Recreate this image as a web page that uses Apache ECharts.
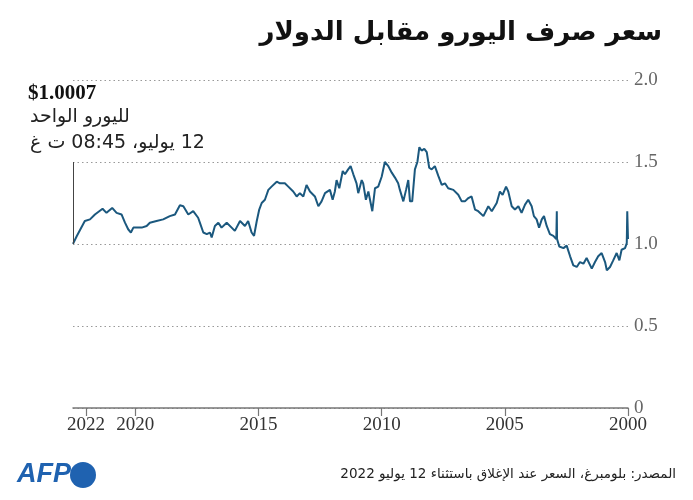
<!DOCTYPE html>
<html>
<head>
<meta charset="utf-8">
<script src="https://cdn.jsdelivr.net/npm/echarts@6.0.0/dist/echarts.min.js"></script>
<style>
  html, body { margin: 0; padding: 0; background: #fff; }
  #chart { width: 693px; height: 500px; }
</style>
</head>
<body>
<div id="chart" dir="rtl"></div>
<script>
// سعر صرف اليورو مقابل الدولار - القيم مقروءة من الرسم
// السنوات بصيغة عشرية (2000.5 = منتصف 2000)
var years = [
  2000.00, 2000.03, 2000.05, 2000.12, 2000.26, 2000.35, 2000.46, 2000.60, 2000.73, 2000.86,
  2000.93, 2001.07, 2001.21, 2001.34, 2001.47, 2001.68, 2001.81, 2001.95, 2002.08, 2002.22,
  2002.35, 2002.49, 2002.62, 2002.79, 2002.88, 2002.89, 2002.91, 2003.03, 2003.17, 2003.30,
  2003.41, 2003.50, 2003.61, 2003.71, 2003.82, 2003.91, 2004.05, 2004.18, 2004.32, 2004.45,
  2004.59, 2004.72, 2004.86, 2004.95, 2005.09, 2005.20, 2005.33, 2005.53, 2005.67, 2005.87,
  2006.08, 2006.21, 2006.35, 2006.48, 2006.62, 2006.75, 2006.89, 2007.09, 2007.30, 2007.43,
  2007.56, 2007.70, 2007.84, 2007.97, 2008.07, 2008.17, 2008.27, 2008.38, 2008.47, 2008.55,
  2008.65, 2008.76, 2008.85, 2008.92, 2009.01, 2009.12, 2009.26, 2009.33, 2009.46, 2009.59,
  2009.73, 2009.87, 2010.00, 2010.14, 2010.27, 2010.38, 2010.54, 2010.64, 2010.75, 2010.81,
  2010.95, 2011.02, 2011.15, 2011.26, 2011.36, 2011.49, 2011.58, 2011.72, 2011.83, 2011.90,
  2011.99, 2012.10, 2012.30, 2012.44, 2012.57, 2012.71, 2012.91, 2013.05, 2013.18, 2013.32,
  2013.45, 2013.59, 2013.79, 2013.93, 2014.13, 2014.26, 2014.47, 2014.60, 2014.74, 2014.87,
  2014.97, 2015.07, 2015.18, 2015.28, 2015.42, 2015.55, 2015.75, 2015.96, 2016.09, 2016.29,
  2016.50, 2016.63, 2016.77, 2016.90, 2016.97, 2017.10, 2017.24, 2017.38, 2017.45, 2017.65,
  2017.85, 2018.05, 2018.19, 2018.39, 2018.60, 2018.87, 2019.14, 2019.41, 2019.54, 2019.74,
  2019.95, 2020.08, 2020.18, 2020.29, 2020.42, 2020.56, 2020.76, 2020.94, 2021.17, 2021.33,
  2021.64, 2021.84, 2022.05, 2022.38, 2022.53
];
var rates = [
  1.030, 1.200, 1.005, 0.975, 0.965, 0.900, 0.945, 0.900, 0.860, 0.840,
  0.890, 0.945, 0.925, 0.890, 0.850, 0.915, 0.880, 0.890, 0.860, 0.870,
  0.925, 0.990, 0.975, 0.985, 1.030, 1.200, 1.030, 1.050, 1.060, 1.110,
  1.170, 1.150, 1.100, 1.150, 1.170, 1.230, 1.270, 1.240, 1.190, 1.230,
  1.210, 1.230, 1.320, 1.350, 1.300, 1.320, 1.250, 1.200, 1.230, 1.170,
  1.200, 1.210, 1.290, 1.280, 1.260, 1.260, 1.300, 1.330, 1.340, 1.370,
  1.360, 1.415, 1.475, 1.455, 1.465, 1.560, 1.580, 1.570, 1.590, 1.500,
  1.455, 1.260, 1.260, 1.390, 1.330, 1.260, 1.330, 1.370, 1.405, 1.435,
  1.475, 1.500, 1.410, 1.350, 1.340, 1.200, 1.320, 1.270, 1.370, 1.390,
  1.310, 1.370, 1.425, 1.475, 1.455, 1.425, 1.445, 1.340, 1.390, 1.320,
  1.270, 1.330, 1.310, 1.260, 1.230, 1.290, 1.320, 1.360, 1.290, 1.310,
  1.290, 1.320, 1.350, 1.370, 1.370, 1.380, 1.350, 1.330, 1.270, 1.250,
  1.210, 1.140, 1.050, 1.070, 1.140, 1.110, 1.140, 1.080, 1.100, 1.130,
  1.100, 1.130, 1.110, 1.040, 1.070, 1.060, 1.070, 1.130, 1.160, 1.200,
  1.180, 1.230, 1.236, 1.180, 1.170, 1.150, 1.140, 1.130, 1.110, 1.100,
  1.100, 1.100, 1.070, 1.090, 1.130, 1.180, 1.190, 1.220, 1.190, 1.215,
  1.180, 1.150, 1.140, 1.047, 1.0007
];
var xTickYears = [2000, 2005, 2010, 2015, 2020, 2022];
var yTicks = [0, 0.5, 1.0, 1.5, 2.0];
var lastValueLabel = '$1.0007';

var serif = "'Liberation Serif', 'DejaVu Serif', 'DejaVu Sans'";
var arabic = "'DejaVu Sans'";

var chartDom = document.getElementById('chart');
var myChart = echarts.init(chartDom, null, { renderer: 'canvas' });

var lineData = years.map(function (y, i) { return [y, rates[i]]; });
var lastYear = years[years.length - 1];
var lastRate = rates[rates.length - 1];

var option = {
  backgroundColor: '#fff',
  animation: false,
  title: {
    text: 'سعر صرف اليورو مقابل الدولار',
    right: 26,
    top: 15,
    textStyle: { fontSize: 26, fontWeight: 'bold', fontFamily: arabic, color: '#111' }
  },
  grid: { left: 73, right: 65, top: 80, bottom: 92, outerBoundsMode: 'none' },
  xAxis: {
    type: 'value',
    inverse: true,
    min: 2000,
    max: lastYear,
    axisLine: { lineStyle: { color: '#777', width: 1.5 } },
    axisTick: { customValues: xTickYears, length: 8, lineStyle: { color: '#777', width: 1.2 } },
    axisLabel: {
      customValues: xTickYears,
      formatter: function (v) { return String(Math.round(v)); },
      color: '#333', fontSize: 19, fontFamily: serif, margin: 8
    },
    splitLine: { show: false }
  },
  yAxis: {
    type: 'value',
    position: 'right',
    min: yTicks[0],
    max: yTicks[yTicks.length - 1],
    interval: 0.5,
    axisLine: { show: false },
    axisTick: { show: false },
    axisLabel: {
      formatter: function (v) { return v === 0 ? '0' : v.toFixed(1); },
      color: '#666', fontSize: 19, fontFamily: serif, margin: 6, verticalAlign: 'middle'
    },
    splitLine: { lineStyle: { type: [1.5, 3], color: '#999', width: 1.2 } }
  },
  series: [{
    type: 'line',
    data: lineData,
    showSymbol: false,
    silent: true,
    lineStyle: { color: '#1b587e', width: 2 },
    markLine: {
      silent: true,
      symbol: ['none', 'none'],
      label: { show: false },
      lineStyle: { color: '#444', width: 1, type: 'solid' },
      data: [[{ coord: [lastYear, lastRate] }, { coord: [lastYear, 1.5] }]]
    }
  }],
  graphic: [
    { type: 'text', left: 28, top: 83,
      style: { text: lastValueLabel, font: "bold 21px " + serif, fill: '#111' } },
    { type: 'text', left: 30, top: 108,
      style: { text: 'لليورو الواحد', font: "19px " + arabic, fill: '#222' } },
    { type: 'text', left: 30, top: 134,
      style: { text: '12 يوليو، 08:45 ت غ', font: "19px " + arabic, fill: '#222' } },
    // الشعار
    { type: 'text', left: 17, top: 461,
      style: { text: 'AFP', font: "italic bold 27px 'Liberation Sans'", fill: '#1f62b0' } },
    { type: 'circle', shape: { cx: 83, cy: 475, r: 13 }, style: { fill: '#1f62b0' } },
    // المصدر
    { type: 'text', right: 17, top: 467,
      style: { text: 'المصدر: بلومبرغ، السعر عند الإغلاق باستثناء 12 يوليو 2022', font: "13.5px " + arabic, fill: '#222' } }
  ]
};

myChart.setOption(option);
</script>
</body>
</html>
